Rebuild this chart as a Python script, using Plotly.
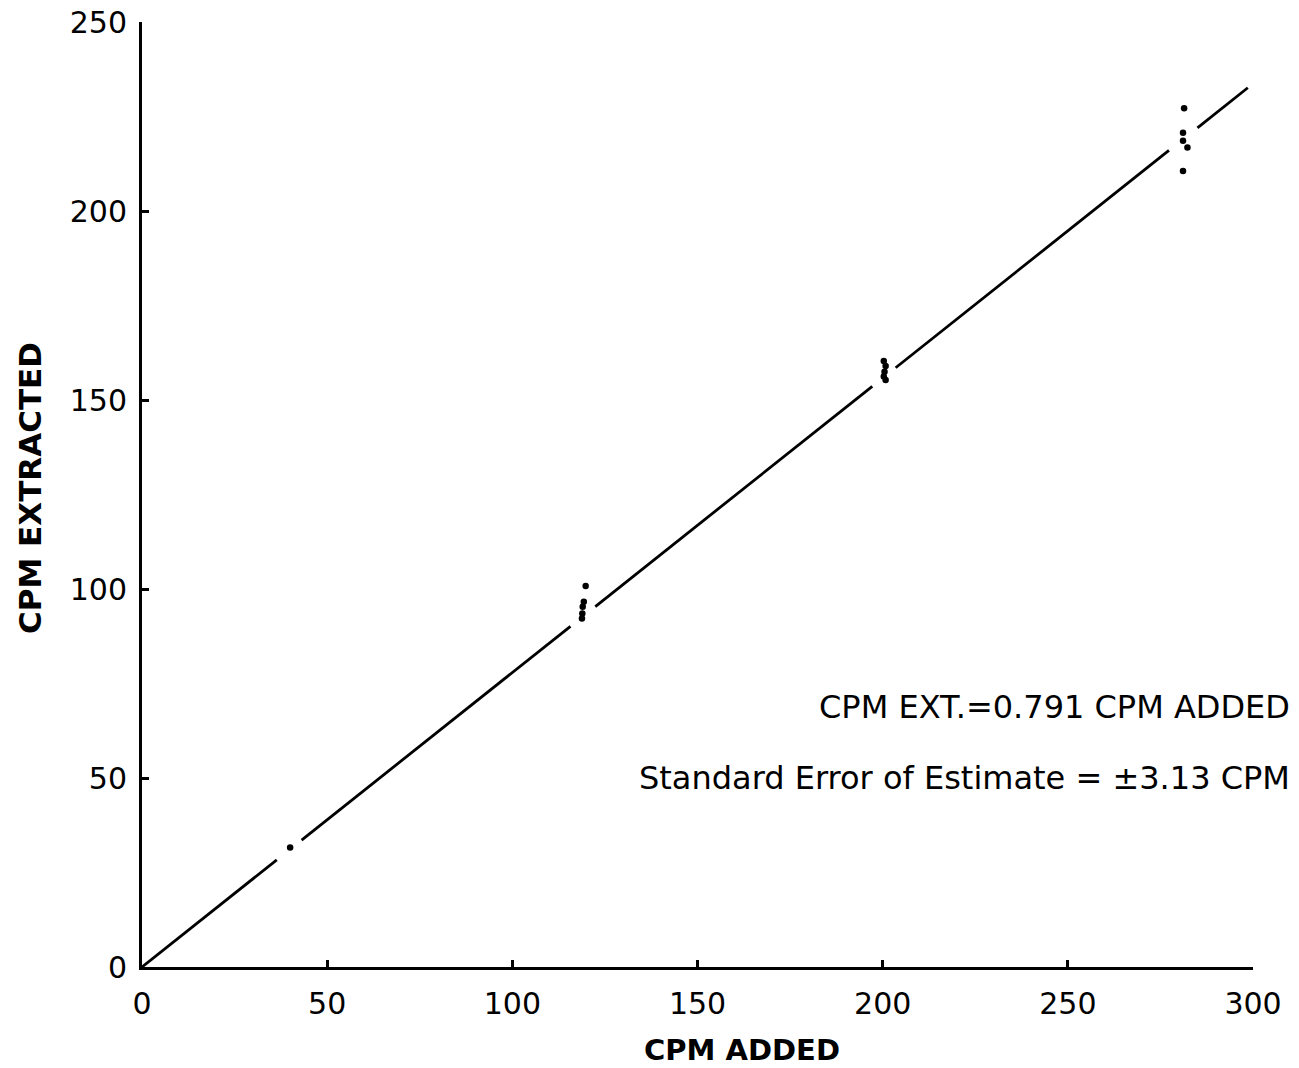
import plotly.graph_objects as go

# Data
cpm_added = [40, 119.8, 119.3, 119.0, 118.9, 118.8,
             200.3, 200.8, 200.5, 200.3, 200.8,
             281.4, 281.1, 281.1, 282.3, 281.1]
cpm_extracted = [31.6, 100.8, 96.6, 95.3, 93.5, 92.2,
                 160.3, 159.0, 157.5, 156.2, 155.3,
                 227.2, 220.7, 218.6, 216.8, 210.6]

# Regression line drawn with hand gaps around the data clusters
line_slope = 0.779
line_segments = [(0, 36.4), (43.1, 115.7), (122.4, 197.2), (203.5, 277.3), (285.0, 298.6)]

x_ticks = [0, 50, 100, 150, 200, 250, 300]
y_ticks = [0, 50, 100, 150, 200, 250]

eq_text = "CPM EXT.=0.791 CPM ADDED"
se_text = "Standard Error of Estimate = \u00b13.13 CPM"

lx, ly = [], []
for a, b in line_segments:
    lx += [a, b, None]
    ly += [a * line_slope, b * line_slope, None]

fig = go.Figure()
fig.add_trace(go.Scatter(x=lx, y=ly, mode="lines",
                         line=dict(color="black", width=2.8),
                         hoverinfo="skip", showlegend=False))
fig.add_trace(go.Scatter(x=cpm_added, y=cpm_extracted, mode="markers",
                         marker=dict(color="black", size=6.5),
                         showlegend=False))

tickfont = dict(family="DejaVu Sans", size=30, color="black")
fig.update_xaxes(range=[0, 300], tickvals=x_ticks, ticktext=[str(v) for v in x_ticks],
                 showline=True, linecolor="black", linewidth=3, automargin=False,
                 ticks="inside", ticklen=7, tickwidth=3, tickcolor="black",
                 showgrid=False, zeroline=False, tickfont=tickfont, ticklabelstandoff=8)
fig.update_yaxes(range=[0, 250], tickvals=y_ticks, ticktext=[str(v) for v in y_ticks],
                 showline=True, linecolor="black", linewidth=3, automargin=False,
                 ticks="inside", ticklen=7, tickwidth=3, tickcolor="black",
                 showgrid=False, zeroline=False, tickfont=tickfont, ticklabelstandoff=6)

fig.add_annotation(text="<b>CPM ADDED</b>", xref="paper", yref="paper",
                   x=(742 - 142) / 1111, y=-83 / 945, showarrow=False,
                   xanchor="center", yanchor="middle",
                   font=dict(family="DejaVu Sans", size=29, color="black"))
fig.add_annotation(text="<b>CPM EXTRACTED</b>", xref="paper", yref="paper",
                   x=-112 / 1111, y=(967 - 488) / 945, showarrow=False, textangle=-90,
                   xanchor="center", yanchor="middle",
                   font=dict(family="DejaVu Sans", size=31, color="black"))
fig.add_annotation(text=eq_text, xref="paper", yref="paper",
                   x=(1292 - 142) / 1111, y=(967 - 707) / 945, showarrow=False,
                   xanchor="right", yanchor="middle",
                   font=dict(family="DejaVu Sans", size=32, color="black"))
fig.add_annotation(text=se_text, xref="paper", yref="paper",
                   x=(1292 - 142) / 1111, y=(967 - 778) / 945, showarrow=False,
                   xanchor="right", yanchor="middle",
                   font=dict(family="DejaVu Sans", size=32, color="black"))

fig.update_layout(width=1299, height=1068, plot_bgcolor="white", paper_bgcolor="white",
                  margin=dict(l=142, r=46, t=22, b=101, autoexpand=False), showlegend=False)

fig.write_html("out.html")
